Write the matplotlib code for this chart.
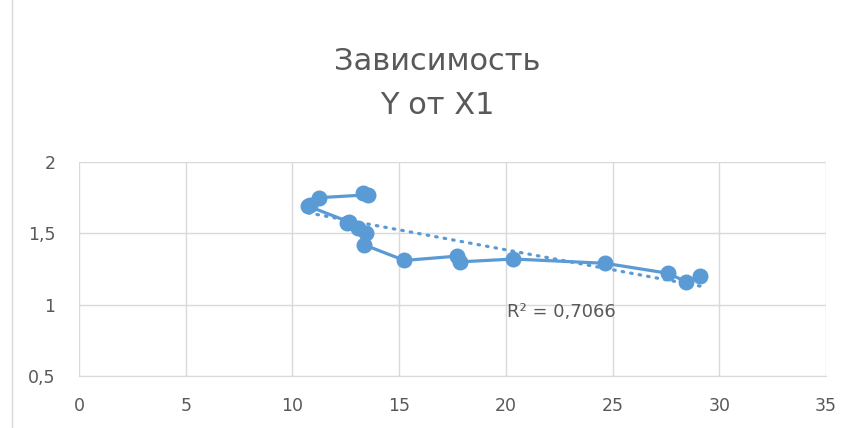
import numpy as np
import matplotlib.pyplot as plt
from matplotlib.lines import Line2D

# данные (порядок точек как на графике)
x1 = [13.3, 13.55, 11.25, 10.8, 10.75, 12.65, 12.55, 13.05, 13.45, 13.35, 15.25,
      17.7, 17.85, 20.35, 24.65, 27.6, 28.45, 29.1]
y = [1.78, 1.77, 1.75, 1.70, 1.69, 1.58, 1.57, 1.54, 1.50, 1.42, 1.31,
     1.34, 1.30, 1.32, 1.29, 1.22, 1.16, 1.20]
xticks = [0, 5, 10, 15, 20, 25, 30, 35]
yticks = [0.5, 1, 1.5, 2]
ytick_labels = ['0,5', '1', '1,5', '2']

blue = '#5B9BD5'
gray = '#595959'
grid = '#D9D9D9'

plt.rcParams['font.family'] = ['DejaVu Sans']
fig = plt.figure(figsize=(8.56, 4.28), dpi=100)
ax = fig.add_axes([79/856, 1-376/428, (826-79)/856, (376-162)/428])

# линия тренда
k, b = np.polyfit(x1, y, 1)
tx = np.array([min(x1), max(x1)])
ax.plot(tx, k*tx + b, color=blue, lw=2.3, linestyle=(0, (0.5, 2.2)),
        dash_capstyle='round', zorder=2)

ax.plot(x1, y, color=blue, lw=2.3, marker='o', markersize=10.5, zorder=3)

ax.text(22.6, 0.95, 'R² = 0,7066', fontsize=13, color=gray, ha='center', va='center')

ax.set_xlim(0, 35)
ax.set_ylim(0.5, 2)
ax.set_xticks(xticks)
ax.set_yticks(yticks)
ax.set_yticklabels(ytick_labels)
ax.grid(True, color=grid, lw=1)
ax.set_axisbelow(True)
for s in ['top', 'right', 'left']:
    ax.spines[s].set_visible(False)
ax.spines['bottom'].set_color(grid)
ax.tick_params(length=0, labelsize=12.5, labelcolor=gray)
ax.tick_params(axis='x', pad=15)
ax.tick_params(axis='y', pad=17)

fig.text(437/856, 1-62/428, 'Зависимость', fontsize=22, color=gray, ha='center', va='center')
fig.text(437/856, 1-106/428, 'Y от X1', fontsize=22, color=gray, ha='center', va='center')

# рамка диаграммы слева
fig.add_artist(Line2D([12/856, 12/856], [0, 1], color=grid, lw=1, transform=fig.transFigure))

fig.savefig('out.png', dpi=100)
